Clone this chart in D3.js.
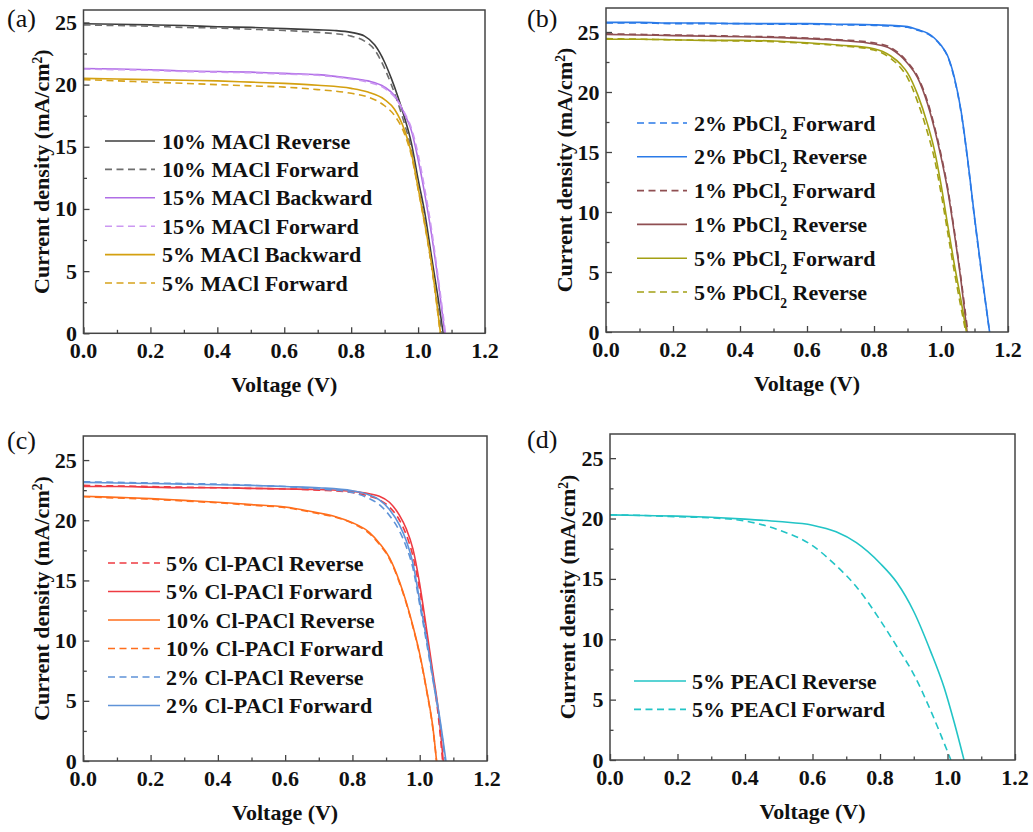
<!DOCTYPE html>
<html><head><meta charset="utf-8"><script src="https://cdn.jsdelivr.net/npm/d3@7"></script></head>
<body style="margin:0">
<svg id="fig" width="1033" height="832"></svg>
<script>
// ---------------- DATA ----------------
const xMajorTicks = [0.0, 0.2, 0.4, 0.6, 0.8, 1.0, 1.2];
const xMinorTicks = [0.1, 0.3, 0.5, 0.7, 0.9, 1.1];
const yMajorTicks = [0, 5, 10, 15, 20, 25];
const yMinorTicks = [2.5, 7.5, 12.5, 17.5, 22.5];

// Panel (a) MACl
const vA_10R = [0,0.1,0.2,0.3,0.4,0.5,0.6,0.7,0.75,0.8,0.84,0.87,0.9,0.92,0.94,0.96,0.98,1.0,1.02,1.04,1.06,1.075];
const jA_10R = [24.9,24.85,24.8,24.75,24.65,24.6,24.5,24.4,24.35,24.2,23.9,23.2,21.8,20.5,19.0,17.3,15.3,12.4,9.7,6.2,2.8,0];
const vA_10F = [0,0.1,0.2,0.3,0.4,0.5,0.6,0.7,0.75,0.8,0.84,0.87,0.9,0.92,0.94,0.96,0.98,1.0,1.02,1.04,1.06,1.072];
const jA_10F = [24.8,24.75,24.7,24.6,24.55,24.45,24.35,24.2,24.1,23.9,23.5,22.8,21.3,20.0,18.5,16.8,14.8,11.8,9.0,5.5,2.0,0];
const vA_15B = [0,0.1,0.2,0.3,0.4,0.5,0.6,0.7,0.8,0.85,0.9,0.93,0.96,0.98,1.0,1.02,1.04,1.06,1.08];
const jA_15B = [21.3,21.25,21.2,21.1,21.05,21.0,20.9,20.8,20.5,20.3,19.8,19.1,17.6,16.3,14.0,11.2,8.0,4.2,0];
const vA_15F = [0,0.1,0.2,0.3,0.4,0.5,0.6,0.7,0.8,0.85,0.9,0.93,0.96,0.98,1.0,1.02,1.04,1.06,1.082];
const jA_15F = [21.25,21.2,21.15,21.05,21.0,20.95,20.85,20.75,20.45,20.2,19.7,19.0,17.7,16.5,14.4,11.6,8.4,4.5,0];
const vA_5B = [0,0.1,0.2,0.3,0.4,0.5,0.6,0.7,0.8,0.85,0.9,0.93,0.96,0.98,1.0,1.02,1.04,1.067];
const jA_5B = [20.5,20.45,20.4,20.35,20.3,20.2,20.1,19.95,19.7,19.4,18.8,18.0,16.3,14.5,11.7,8.8,5.6,0];
const vA_5F = [0,0.1,0.2,0.3,0.4,0.5,0.6,0.7,0.8,0.85,0.9,0.93,0.96,0.98,1.0,1.02,1.04,1.066];
const jA_5F = [20.4,20.3,20.2,20.1,20.0,19.9,19.8,19.6,19.3,19.0,18.3,17.5,16.0,14.3,11.6,8.7,5.5,0];

// Panel (b) PbCl2
const vB_2F = [0,0.1,0.2,0.3,0.4,0.5,0.6,0.7,0.8,0.85,0.9,0.93,0.96,0.98,1.0,1.02,1.04,1.06,1.08,1.1,1.12,1.145];
const jB_2F = [25.75,25.75,25.7,25.7,25.7,25.65,25.65,25.6,25.55,25.5,25.4,25.15,24.85,24.45,23.85,22.95,21.1,18.3,14.2,9.5,5.1,0];
const vB_2R = [0,0.1,0.2,0.3,0.4,0.5,0.6,0.7,0.8,0.85,0.9,0.93,0.96,0.98,1.0,1.02,1.04,1.06,1.08,1.1,1.12,1.145];
const jB_2R = [25.8,25.8,25.75,25.75,25.7,25.7,25.7,25.65,25.6,25.55,25.45,25.2,24.9,24.5,23.9,23.0,21.2,18.4,14.3,9.6,5.2,0];
const vB_1F = [0,0.1,0.2,0.3,0.4,0.5,0.6,0.7,0.8,0.85,0.9,0.93,0.96,0.98,1.0,1.02,1.04,1.06,1.08];
const jB_1F = [24.85,24.8,24.75,24.7,24.65,24.6,24.5,24.35,24.1,23.7,22.5,21.3,19.2,17.2,14.8,12.0,8.4,4.4,0];
const vB_1R = [0,0.1,0.2,0.3,0.4,0.5,0.6,0.7,0.8,0.85,0.9,0.93,0.96,0.98,1.0,1.02,1.04,1.06,1.078];
const jB_1R = [24.8,24.75,24.7,24.65,24.6,24.55,24.45,24.3,24.0,23.6,22.4,21.2,19.0,17.0,14.6,11.8,8.2,4.2,0];
const vB_5F = [0,0.1,0.2,0.3,0.4,0.5,0.6,0.7,0.8,0.85,0.88,0.9,0.93,0.96,0.98,1.0,1.02,1.04,1.06,1.076];
const jB_5F = [24.4,24.4,24.35,24.3,24.3,24.25,24.1,23.9,23.6,23.0,22.3,21.6,19.8,17.3,15.2,12.3,8.9,5.6,2.6,0];
const vB_5R = [0,0.1,0.2,0.3,0.4,0.5,0.6,0.7,0.8,0.85,0.88,0.9,0.93,0.96,0.98,1.0,1.02,1.04,1.06,1.074];
const jB_5R = [24.45,24.4,24.35,24.3,24.25,24.2,24.05,23.85,23.5,22.8,22.0,21.2,19.2,16.6,14.5,11.6,8.3,5.0,2.0,0];

// Panel (c) Cl-PACl
const vC_5R = [0,0.1,0.2,0.3,0.4,0.5,0.6,0.7,0.8,0.85,0.88,0.91,0.94,0.96,0.98,1.0,1.02,1.04,1.055,1.068];
const jC_5R = [22.9,22.85,22.8,22.75,22.7,22.65,22.6,22.5,22.3,22.0,21.7,21.1,20.0,18.8,17.0,14.2,10.6,6.8,3.8,0];
const vC_5F = [0,0.1,0.2,0.3,0.4,0.5,0.6,0.7,0.8,0.85,0.88,0.91,0.94,0.96,0.98,1.0,1.02,1.04,1.055,1.07];
const jC_5F = [22.8,22.8,22.75,22.7,22.7,22.65,22.6,22.55,22.4,22.2,22.0,21.5,20.4,19.3,17.6,14.7,11.0,7.2,4.3,0];
const vC_10R = [0,0.1,0.2,0.3,0.4,0.5,0.6,0.7,0.75,0.8,0.85,0.88,0.91,0.94,0.96,0.98,1.0,1.02,1.04,1.05];
const jC_10R = [22.0,21.9,21.8,21.65,21.5,21.3,21.1,20.6,20.3,19.8,19.0,18.1,16.9,14.9,13.2,11.2,8.9,6.0,2.6,0];
const vC_10F = [0,0.1,0.2,0.3,0.4,0.5,0.6,0.7,0.75,0.8,0.85,0.88,0.91,0.94,0.96,0.98,1.0,1.02,1.04,1.05];
const jC_10F = [21.95,21.85,21.75,21.6,21.45,21.25,21.05,20.55,20.25,19.75,18.9,18.0,16.8,14.8,13.1,11.1,8.8,5.9,2.5,0];
const vC_2R = [0,0.1,0.2,0.3,0.4,0.5,0.6,0.7,0.8,0.85,0.88,0.91,0.94,0.96,0.98,1.0,1.02,1.04,1.06,1.076];
const jC_2R = [23.2,23.15,23.1,23.05,23.0,22.9,22.8,22.6,22.3,21.8,21.3,20.4,19.1,17.8,16.0,13.0,9.9,6.6,3.3,0];
const vC_2F = [0,0.1,0.2,0.3,0.4,0.5,0.6,0.7,0.8,0.85,0.88,0.91,0.94,0.96,0.98,1.0,1.02,1.04,1.06,1.078];
const jC_2F = [23.15,23.1,23.05,23.0,22.95,22.9,22.8,22.7,22.45,22.1,21.7,20.9,19.6,18.3,16.4,13.3,10.2,6.8,3.5,0];

// Panel (d) PEACl
const vD_5R = [0,0.1,0.2,0.3,0.4,0.5,0.6,0.67,0.73,0.8,0.85,0.9,0.95,0.99,1.02,1.049];
const jD_5R = [20.3,20.25,20.2,20.1,19.95,19.75,19.45,18.9,18.0,16.3,14.7,12.3,9.0,6.0,3.1,0];
const vD_5F = [0,0.1,0.2,0.3,0.4,0.5,0.6,0.67,0.73,0.8,0.85,0.9,0.95,0.99,1.01];
const jD_5F = [20.3,20.25,20.15,20.05,19.8,19.05,17.75,16.1,14.35,11.6,9.4,7.1,4.1,1.4,0];

// Series definitions (legend labels; "_2" marks a subscript 2)
const seriesA = [
  {label: "10% MACl Reverse",  v: vA_10R, j: jA_10R, color: "#3d3d3d", dash: false},
  {label: "10% MACl Forward",  v: vA_10F, j: jA_10F, color: "#6e6e6e", dash: true},
  {label: "15% MACl Backward", v: vA_15B, j: jA_15B, color: "#b06ee6", dash: false},
  {label: "15% MACl Forward",  v: vA_15F, j: jA_15F, color: "#cc98f2", dash: true},
  {label: "5% MACl Backward",  v: vA_5B,  j: jA_5B,  color: "#d4a010", dash: false},
  {label: "5% MACl Forward",   v: vA_5F,  j: jA_5F,  color: "#d6a21c", dash: true}
];
const seriesB = [
  {label: "2% PbCl_2 Forward", v: vB_2F, j: jB_2F, color: "#2a7ae8", dash: true},
  {label: "2% PbCl_2 Reverse", v: vB_2R, j: jB_2R, color: "#2a7ae8", dash: false},
  {label: "1% PbCl_2 Forward", v: vB_1F, j: jB_1F, color: "#8f4f52", dash: true},
  {label: "1% PbCl_2 Reverse", v: vB_1R, j: jB_1R, color: "#8f4f52", dash: false},
  {label: "5% PbCl_2 Forward", v: vB_5F, j: jB_5F, color: "#a3a014", dash: false},
  {label: "5% PbCl_2 Reverse", v: vB_5R, j: jB_5R, color: "#a3a014", dash: true}
];
const seriesC = [
  {label: "5% Cl-PACl Reverse",  v: vC_5R,  j: jC_5R,  color: "#ee3b42", dash: true},
  {label: "5% Cl-PACl Forward",  v: vC_5F,  j: jC_5F,  color: "#ee3b42", dash: false},
  {label: "10% Cl-PACl Reverse", v: vC_10R, j: jC_10R, color: "#ff6e1c", dash: false},
  {label: "10% Cl-PACl Forward", v: vC_10F, j: jC_10F, color: "#ff6e1c", dash: true},
  {label: "2% Cl-PACl Reverse",  v: vC_2R,  j: jC_2R,  color: "#5f93d8", dash: true},
  {label: "2% Cl-PACl Forward",  v: vC_2F,  j: jC_2F,  color: "#5f93d8", dash: false}
];
const seriesD = [
  {label: "5% PEACl Reverse", v: vD_5R, j: jD_5R, color: "#22c4c6", dash: false},
  {label: "5% PEACl Forward", v: vD_5F, j: jD_5F, color: "#22c4c6", dash: true}
];

// ---------------- LAYOUT ----------------
const panels = [
  {tag: "(a)", series: seriesA, x0: 83.5, x1: 485,  y0: 10,  y1: 333.3, ymax: 26,
   tagX: 7, tagY: 27, ytitleX: 49,
   leg: {x0: 105, x1: 155, tx: 162, y: 141, dy: 28.4}},
  {tag: "(b)", series: seriesB, x0: 606,  x1: 1008, y0: 8,   y1: 332,   ymax: 27,
   tagX: 527, tagY: 27, ytitleX: 572,
   leg: {x0: 637, x1: 687, tx: 694, y: 123, dy: 33.8}},
  {tag: "(c)", series: seriesC, x0: 83.3, x1: 487,  y0: 436, y1: 761,   ymax: 27,
   tagX: 7, tagY: 449, ytitleX: 49,
   leg: {x0: 108, x1: 160, tx: 166, y: 563, dy: 28.5}},
  {tag: "(d)", series: seriesD, x0: 610,  x1: 1015, y0: 434, y1: 760,   ymax: 27,
   tagX: 527, tagY: 448, ytitleX: 575,
   leg: {x0: 634, x1: 686, tx: 692, y: 681, dy: 28.4}}
];

const svg = d3.select("#fig");
const FS = 22;
const DASH = "7,4.5";
const fmtX = d3.format(".1f");
const fmtY = d3.format("d");

function txt(x, y, bold, size) {
  return svg.append("text").attr("x", x).attr("y", y)
    .attr("font-family", "Liberation Serif")
    .attr("style", "font-family: 'Liberation Serif'")
    .attr("font-weight", bold ? "bold" : "normal")
    .attr("font-size", size || FS).attr("fill", "#111");
}

function addLabel(sel, label) {
  const parts = label.split("_2");
  parts.forEach((p, i) => {
    sel.append("tspan").text(p);
    if (i < parts.length - 1) {
      sel.append("tspan").attr("baseline-shift", "sub").attr("font-size", FS * 0.62).text("2");
    }
  });
}

panels.forEach((P, pi) => {
  const x = d3.scaleLinear().domain([0, 1.2]).range([P.x0, P.x1]);
  const y = d3.scaleLinear().domain([0, P.ymax]).range([P.y1, P.y0]);
  const g = svg.append("g");

  const clipId = "clip" + pi;
  svg.append("clipPath").attr("id", clipId).append("rect")
    .attr("x", P.x0).attr("y", P.y0).attr("width", P.x1 - P.x0).attr("height", P.y1 - P.y0);

  const line = d3.line().x(d => x(d[0])).y(d => y(d[1])).curve(d3.curveMonotoneX);
  const lg = g.append("g").attr("clip-path", `url(#${clipId})`);
  P.series.forEach(s => {
    const pts = s.v.map((v, i) => [v, s.j[i]]);
    lg.append("path").attr("d", line(pts))
      .attr("fill", "none").attr("stroke", s.color).attr("stroke-width", 1.6)
      .attr("stroke-dasharray", s.dash ? DASH : null);
  });

  const axes = [
    [d3.axisBottom(x).tickValues(xMajorTicks).tickFormat("").tickSize(-6), `translate(0,${P.y1})`],
    [d3.axisBottom(x).tickValues(xMinorTicks).tickFormat("").tickSize(-3.5), `translate(0,${P.y1})`],
    [d3.axisLeft(y).tickValues(yMajorTicks).tickFormat("").tickSize(-6), `translate(${P.x0},0)`],
    [d3.axisLeft(y).tickValues(yMinorTicks).tickFormat("").tickSize(-3.5), `translate(${P.x0},0)`]
  ];
  axes.forEach(([ax, tr]) => {
    g.append("g").attr("transform", tr).call(ax).call(s => s.select(".domain").remove());
  });
  g.selectAll(".tick line").attr("stroke", "#444").attr("stroke-width", 1.3);
  g.selectAll(".tick text").remove();

  xMajorTicks.forEach(t => {
    txt(x(t), P.y1 + 24.5, true).attr("text-anchor", "middle").text(fmtX(t));
  });
  yMajorTicks.forEach(t => {
    txt(P.x0 - 6.5, y(t) + 7.5, true).attr("text-anchor", "end").text(fmtY(t));
  });

  g.append("rect").attr("x", P.x0).attr("y", P.y0)
    .attr("width", P.x1 - P.x0).attr("height", P.y1 - P.y0)
    .attr("fill", "none").attr("stroke", "#444").attr("stroke-width", 1.5);

  txt((P.x0 + P.x1) / 2, P.y1 + 59, true).attr("text-anchor", "middle").text("Voltage (V)");

  const yt = txt(0, 0, true)
    .attr("transform", `translate(${P.ytitleX},${(P.y0 + P.y1) / 2}) rotate(-90)`)
    .attr("text-anchor", "middle");
  yt.append("tspan").text("Current density (mA/cm");
  yt.append("tspan").attr("baseline-shift", "super").attr("font-size", FS * 0.62).text("2");
  yt.append("tspan").text(")");

  txt(P.tagX, P.tagY, false, 26).text(P.tag);

  P.series.forEach((s, i) => {
    const ly = P.leg.y + i * P.leg.dy;
    g.append("line").attr("x1", P.leg.x0).attr("x2", P.leg.x1).attr("y1", ly).attr("y2", ly)
      .attr("stroke", s.color).attr("stroke-width", 1.6)
      .attr("stroke-dasharray", s.dash ? DASH : null);
    addLabel(txt(P.leg.tx, ly + 7.5, true), s.label);
  });
});
</script></body></html>
